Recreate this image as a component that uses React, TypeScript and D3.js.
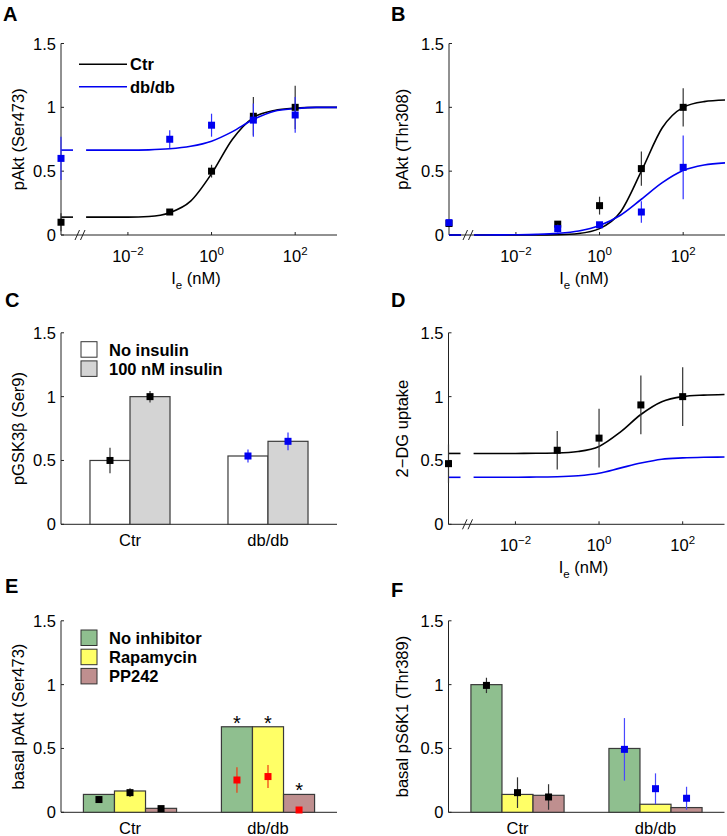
import { useEffect, useRef } from "react";
import * as d3 from "d3";

const FONT = "Arial, 'Liberation Sans', Helvetica, sans-serif";
const BLUE = "#0000f0";
const RED = "#ff0000";
const GREEN = "#8fbf8f";
const YELLOW = "#ffff66";
const PINK = "#bf8f8f";
const GREY = "#d4d4d4";

// dose-response panels: index 0 of every mean/err list is the basal (no insulin) point
const doses = [0.1, 1, 10, 100];
const logTicks = [-2, 0, 2];
const curveLogDose = [-3, -2.5, -2, -1.5, -1, -0.5, 0, 0.5, 1, 1.5, 2, 2.5, 3];
const yTicks = [0, 0.5, 1, 1.5];
const yTickLabels = ["0", "0.5", "1", "1.5"];

// A: pAkt (Ser473)
const aCtrMean = [0.1, 0.18, 0.5, 0.93, 1.0];
const aCtrErr = [0.07, 0.02, 0.05, 0.15, 0.17];
const aDbMean = [0.6, 0.75, 0.86, 0.9, 0.94];
const aDbErr = [0.17, 0.07, 0.09, 0.13, 0.14];
const aCtrCurve = [0.14, 0.14, 0.14, 0.145, 0.175, 0.265, 0.48, 0.75, 0.92, 0.975, 0.994, 1.0, 1.0];
const aDbCurve = [0.665, 0.665, 0.665, 0.667, 0.675, 0.695, 0.735, 0.81, 0.905, 0.97, 0.99, 1.0, 1.0];

// B: pAkt (Thr308)
const bCtrMean = [0.09, 0.085, 0.23, 0.52, 1.0];
const bCtrErr = [0.02, 0.02, 0.07, 0.135, 0.15];
const bDbMean = [0.097, 0.05, 0.08, 0.18, 0.53];
const bDbErr = [0.02, 0.03, 0.02, 0.085, 0.25];
const bCtrCurve = [0.0, 0.0, 0.0, 0.001, 0.003, 0.012, 0.05, 0.18, 0.5, 0.84, 1.0, 1.045, 1.057];
const bDbCurve = [0.0, 0.001, 0.002, 0.005, 0.013, 0.032, 0.075, 0.155, 0.28, 0.41, 0.505, 0.548, 0.565];

// D: 2-DG uptake (only Ctr measured)
const dCtrMean = [0.475, 0.58, 0.675, 0.935, 1.0];
const dCtrErr = [0.15, 0.15, 0.23, 0.23, 0.23];
const dCtrCurve = [0.555, 0.555, 0.555, 0.556, 0.558, 0.57, 0.61, 0.72, 0.86, 0.96, 1.0, 1.012, 1.017];
const dDbCurve = [0.368, 0.368, 0.368, 0.37, 0.372, 0.38, 0.4, 0.44, 0.48, 0.51, 0.52, 0.525, 0.527];

// bar panels
const groups = ["Ctr", "db/db"];
// C: pGSK3b (Ser9)
const cNoIns = [0.5, 0.535];
const cNoInsErr = [0.1, 0.05];
const cIns = [1.0, 0.65];
const cInsErr = [0.045, 0.07];
// E: basal pAkt (Ser473) - bar = model, square = data
const eNoInh = [0.14, 0.67];
const eRapa = [0.167, 0.67];
const ePP = [0.031, 0.14];
const eNoInhPt = [0.1, 0.253];
const eNoInhErr = [0.01, 0.1];
const eRapaPt = [0.154, 0.28];
const eRapaErr = [0.035, 0.09];
const ePPPt = [0.029, 0.018];
const ePPErr = [0.008, 0.008];
const eStar = [false, true];
// F: basal pS6K1 (Thr389)
const fNoInh = [1.0, 0.5];
const fRapa = [0.14, 0.063];
const fPP = [0.133, 0.037];
const fNoInhPt = [0.994, 0.493];
const fNoInhErr = [0.06, 0.245];
const fRapaPt = [0.154, 0.185];
const fRapaErr = [0.12, 0.12];
const fPPPt = [0.12, 0.11];
const fPPErr = [0.1, 0.09];

const W = 276;
const H = 191.5;

export default function App() {
  const ref = useRef<SVGSVGElement>(null);

  useEffect(() => {
    document.body.style.margin = "0";
    const svg = d3.select(ref.current);
    svg.selectAll("*").remove();

    const txt = (x: number, y: number, s: string, size = 16.5, anchor = "start", weight = "normal") =>
      svg
        .append("text")
        .attr("x", x)
        .attr("y", y)
        .attr("font-family", FONT)
        .attr("font-size", size)
        .attr("font-weight", weight)
        .attr("text-anchor", anchor)
        .attr("fill", "#000")
        .text(s);

    // axes common to all panels
    const frame = (x0: number, y0: number, letter: string, letterX: number, letterY: number, yLabel: string, labelX: number) => {
      const ys = d3.scaleLinear().domain([0, 1.5]).range([y0, y0 - H]);
      const g = svg.append("g");
      g.append("line").attr("x1", x0).attr("x2", x0).attr("y1", y0).attr("y2", y0 - H).attr("stroke", "#222");
      g.append("line").attr("x1", x0).attr("x2", x0 + W).attr("y1", y0).attr("y2", y0).attr("stroke", "#222");
      yTicks.forEach((t, i) => {
        g.append("line").attr("x1", x0).attr("x2", x0 + 3).attr("y1", ys(t)).attr("y2", ys(t)).attr("stroke", "#222");
        txt(x0 - 5, ys(t) + 6, yTickLabels[i], 16.5, "end");
      });
      txt(letterX, letterY, letter, 20, "start", "bold");
      svg
        .append("text")
        .attr("transform", `translate(${labelX},${y0 - H / 2}) rotate(-90)`)
        .attr("font-family", FONT)
        .attr("font-size", 16.5)
        .attr("text-anchor", "middle")
        .text(yLabel);
      return ys;
    };

    const errPoint = (x: number, y: number, yLo: number, yHi: number, fill: string, errColor: string) => {
      svg.append("line").attr("x1", x).attr("x2", x).attr("y1", yLo).attr("y2", yHi).attr("stroke", errColor).attr("stroke-width", 1.2);
      svg.append("rect").attr("x", x - 3.5).attr("y", y - 3.5).attr("width", 7).attr("height", 7).attr("fill", fill);
    };

    const logPanel = (
      x0: number, y0: number, letter: string, letterX: number, letterY: number, yLabel: string, labelX: number,
      curves: { values: number[]; color: string }[],
      series: { mean: number[]; err: number[]; color: string; errColor: string }[]
    ) => {
      const ys = frame(x0, y0, letter, letterX, letterY, yLabel, labelX);
      const xs = d3.scaleLog().domain([10 ** -3.6, 1000]).range([x0, x0 + W]);
      logTicks.forEach((t) => {
        const x = xs(10 ** t);
        svg.append("line").attr("x1", x).attr("x2", x).attr("y1", y0).attr("y2", y0 - 3).attr("stroke", "#222");
        const tx = txt(x, y0 + 26.5, "", 16.5, "middle");
        tx.append("tspan").text("10");
        tx.append("tspan").attr("dy", -7).attr("font-size", 11.5).text(t < 0 ? `\u2212${-t}` : `${t}`);
      });
      // axis break
      [14, 19.5].forEach((dx) => {
        svg.append("line").attr("x1", x0 + dx).attr("y1", y0 + 5).attr("x2", x0 + dx + 4.5).attr("y2", y0 - 5).attr("stroke", "#222");
      });
      const xl = txt(x0 + W / 2 - 3, y0 + 49, "", 16.5, "middle");
      xl.append("tspan").text("I");
      xl.append("tspan").attr("dy", 5).attr("font-size", 11.5).text("e");
      xl.append("tspan").attr("dy", -5).text(" (nM)");

      const line = d3
        .line<number>()
        .x((_, i) => xs(10 ** curveLogDose[i]))
        .y((d) => ys(d))
        .curve(d3.curveMonotoneX);
      curves.forEach((c) => {
        svg.append("line").attr("x1", x0).attr("x2", x0 + 12).attr("y1", ys(c.values[0])).attr("y2", ys(c.values[0])).attr("stroke", c.color).attr("stroke-width", 1.6);
        svg.append("path").attr("d", line(c.values)).attr("fill", "none").attr("stroke", c.color).attr("stroke-width", 1.6);
      });
      series.forEach((s) => {
        s.mean.forEach((m, i) => {
          const x = i === 0 ? x0 : xs(doses[i - 1]);
          errPoint(x, ys(m), ys(m - s.err[i]), ys(m + s.err[i]), s.color, s.errColor);
        });
      });
      return ys;
    };

    const legendBoxes = (x: number, yTop: number, items: { label: string; fill: string }[]) => {
      items.forEach((it, i) => {
        const y = yTop + i * 19.2;
        svg.append("rect").attr("x", x).attr("y", y).attr("width", 16).attr("height", 15.5).attr("fill", it.fill).attr("stroke", "#333");
        txt(x + 28, y + 14, it.label, 16.5, "start", "bold");
      });
    };

    const barPanel = (
      x0: number, y0: number, letter: string, letterX: number, letterY: number, yLabel: string, labelX: number,
      bw: number,
      bars: { values: number[]; fill: string }[],
      pts: { mean: number[]; err: number[] }[],
      ptColors: string[],
      errColors: string[],
      stars?: boolean[]
    ) => {
      const ys = frame(x0, y0, letter, letterX, letterY, yLabel, labelX);
      const xs = d3.scaleLinear().domain([0.5, 2.5]).range([x0, x0 + W]);
      groups.forEach((gname, gi) => {
        const c = gi + 1;
        txt(xs(c), y0 + 22, gname, 16.5, "middle");
        bars.forEach((b, bi) => {
          const left = c - (bars.length / 2) * bw + bi * bw;
          const v = b.values[gi];
          svg
            .append("rect")
            .attr("x", xs(left))
            .attr("y", ys(v))
            .attr("width", xs(left + bw) - xs(left))
            .attr("height", ys(0) - ys(v))
            .attr("fill", b.fill)
            .attr("stroke", "#3a3a3a")
            .attr("stroke-width", 1.2);
          if (stars && stars[gi]) {
            txt(xs(left + bw / 2), ys(v) + 3, "*", 20, "middle");
          }
        });
        pts.forEach((p, pi) => {
          const xc = xs(c - (bars.length / 2) * bw + pi * bw + bw / 2);
          const m = p.mean[gi];
          errPoint(xc, ys(m), ys(m - p.err[gi]), ys(m + p.err[gi]), ptColors[gi], errColors[gi]);
        });
      });
    };

    // A
    logPanel(61, 235, "A", 3, 21, "pAkt (Ser473)", 24,
      [{ values: aCtrCurve, color: "#000" }, { values: aDbCurve, color: BLUE }],
      [
        { mean: aCtrMean, err: aCtrErr, color: "#000", errColor: "#333" },
        { mean: aDbMean, err: aDbErr, color: BLUE, errColor: "#3030ff" },
      ]);
    [{ label: "Ctr", color: "#000", y: 64.3 }, { label: "db/db", color: BLUE, y: 86.7 }].forEach((l) => {
      svg.append("line").attr("x1", 79).attr("x2", 127).attr("y1", l.y).attr("y2", l.y).attr("stroke", l.color).attr("stroke-width", 1.6);
      txt(130, l.y + 6, l.label, 16.5, "start", "bold");
    });

    // B
    logPanel(449, 235, "B", 391, 21, "pAkt (Thr308)", 408,
      [{ values: bCtrCurve, color: "#000" }, { values: bDbCurve, color: BLUE }],
      [
        { mean: bCtrMean, err: bCtrErr, color: "#000", errColor: "#333" },
        { mean: bDbMean, err: bDbErr, color: BLUE, errColor: "#3030ff" },
      ]);

    // C
    barPanel(61, 524.3, "C", 5, 307, "pGSK3\u03b2 (Ser9)", 24, 0.29,
      [{ values: cNoIns, fill: "#fff" }, { values: cIns, fill: GREY }],
      [{ mean: cNoIns, err: cNoInsErr }, { mean: cIns, err: cInsErr }],
      ["#000", BLUE], ["#333", "#3030ff"]);
    legendBoxes(81, 341.7, [{ label: "No insulin", fill: "#fff" }, { label: "100 nM insulin", fill: GREY }]);

    // D
    logPanel(448.5, 524.3, "D", 391, 307, "2\u2212DG uptake", 408,
      [{ values: dCtrCurve, color: "#000" }, { values: dDbCurve, color: BLUE }],
      [{ mean: dCtrMean, err: dCtrErr, color: "#000", errColor: "#333" }]);

    // E
    barPanel(61, 812.3, "E", 5, 593, "basal pAkt (Ser473)", 24, 0.225,
      [{ values: eNoInh, fill: GREEN }, { values: eRapa, fill: YELLOW }, { values: ePP, fill: PINK }],
      [{ mean: eNoInhPt, err: eNoInhErr }, { mean: eRapaPt, err: eRapaErr }, { mean: ePPPt, err: ePPErr }],
      ["#000", RED], ["#333", "#f03a10"], eStar);
    legendBoxes(81, 630, [
      { label: "No inhibitor", fill: GREEN },
      { label: "Rapamycin", fill: YELLOW },
      { label: "PP242", fill: PINK },
    ]);

    // F
    barPanel(448.5, 812.3, "F", 391, 597, "basal pS6K1 (Thr389)", 408, 0.225,
      [{ values: fNoInh, fill: GREEN }, { values: fRapa, fill: YELLOW }, { values: fPP, fill: PINK }],
      [{ mean: fNoInhPt, err: fNoInhErr }, { mean: fRapaPt, err: fRapaErr }, { mean: fPPPt, err: fPPErr }],
      ["#000", BLUE], ["#333", "#4848ff"]);
  }, []);

  return <svg ref={ref} width={727} height={836} style={{ display: "block", background: "#fff" }} />;
}
